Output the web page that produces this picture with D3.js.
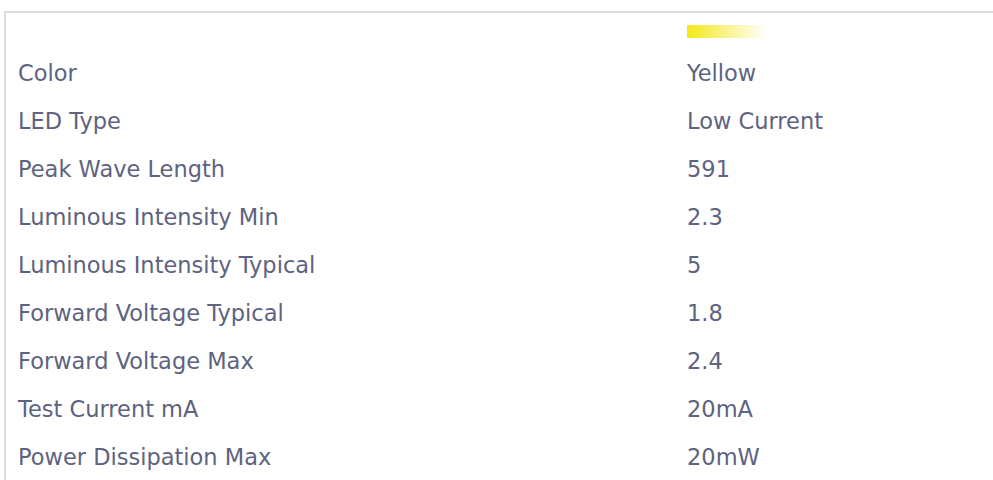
<!DOCTYPE html>
<html>
<head>
<meta charset="utf-8">
<script src="https://cdn.jsdelivr.net/npm/d3@7"></script>
<style>
html,body{margin:0;padding:0;background:#fff;}
svg{display:block;}
</style>
</head>
<body>
<svg id="chart" width="993" height="480"></svg>
<script>
const properties = ["Color","LED Type","Peak Wave Length","Luminous Intensity Min","Luminous Intensity Typical","Forward Voltage Typical","Forward Voltage Max","Test Current mA","Power Dissipation Max"];
const values = ["Yellow","Low Current","591","2.3","5","1.8","2.4","20mA","20mW"];
const swatchColor = "#f3e81c";

const svg = d3.select("#chart");
const W = 993, H = 480;

const defs = svg.append("defs");
const grad = defs.append("linearGradient").attr("id","sw").attr("x1","0%").attr("x2","100%");
grad.append("stop").attr("offset","0%").attr("stop-color",swatchColor).attr("stop-opacity",1);
grad.append("stop").attr("offset","100%").attr("stop-color",swatchColor).attr("stop-opacity",0);

// frame
svg.append("rect").attr("x",4).attr("y",11).attr("width",W).attr("height",2).attr("fill","#dcdce3");
svg.append("rect").attr("x",4).attr("y",11).attr("width",2).attr("height",H).attr("fill","#dcdce3");

// swatch
svg.append("rect").attr("x",687).attr("y",25).attr("width",80).attr("height",13).attr("fill","url(#sw)");

const y = d3.scalePoint().domain(properties).range([73, 73 + 48*(properties.length-1)]);
const textColor = "#5d6380";
const font = "'DejaVu Sans', Verdana, sans-serif";

const rows = svg.append("g").selectAll("g").data(properties).join("g")
  .attr("transform", d => `translate(0,${y(d)})`);
rows.append("text").attr("x",18).attr("dy","0.35em")
  .attr("font-family",font).attr("font-size",22.5).attr("fill",textColor)
  .text(d => d);
rows.append("text").attr("x",687).attr("dy","0.35em")
  .attr("font-family",font).attr("font-size",22.5).attr("fill",textColor)
  .text((d,i) => values[i]);
</script>
</body>
</html>
